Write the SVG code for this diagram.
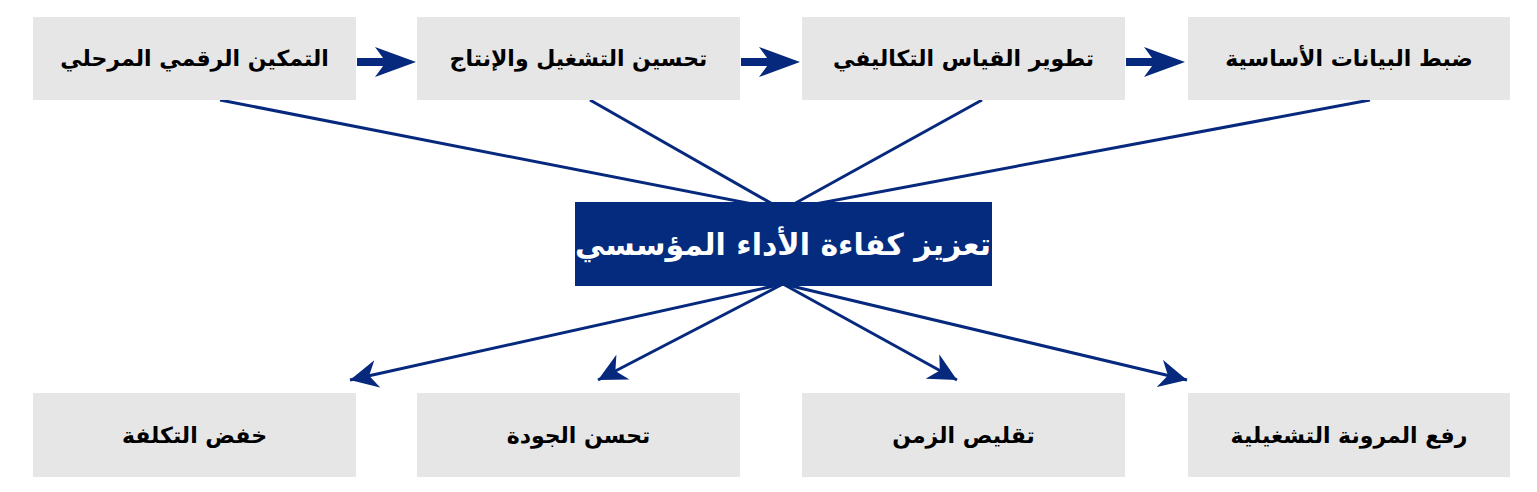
<svg xmlns="http://www.w3.org/2000/svg" width="1537" height="492" viewBox="0 0 1537 492">
<style>
.b{fill:#e6e6e6}
.t{font-family:"DejaVu Sans",sans-serif;font-weight:bold;font-size:22px;fill:#000;text-anchor:middle;direction:rtl}
.c{stroke:#06297d;stroke-width:3;fill:none}
.k{stroke:#06297d;stroke-width:8;fill:none}
</style>
<defs>
<marker id="a" viewBox="0 0 10 10" refX="9" refY="5" markerWidth="10" markerHeight="10" markerUnits="userSpaceOnUse" orient="auto"><path d="M0,0 L10,5 L0,10 z" fill="#06297d"/></marker>
<marker id="a2" viewBox="0 0 10 10" refX="10" refY="5" markerWidth="8" markerHeight="8" orient="auto"><path d="M0,0 L10,5 L0,10 L3,5 z" fill="#06297d"/></marker>
<marker id="a3" viewBox="0 0 10 10" refX="10" refY="5" markerWidth="28" markerHeight="28" markerUnits="userSpaceOnUse" orient="auto"><path d="M0,0 L10,5 L0,10 L3,5 z" fill="#06297d"/></marker>
</defs>
<g id="connectors">
<line class="c" x1="220" y1="100" x2="783" y2="210"/>
<line class="c" x1="590" y1="100" x2="783" y2="210"/>
<line class="c" x1="982" y1="100" x2="783" y2="210"/>
<line class="c" x1="1370" y1="100" x2="783" y2="210"/>
<line class="c" x1="783" y1="284" x2="350" y2="380" marker-end="url(#a3)"/>
<line class="c" x1="783" y1="284" x2="598" y2="380" marker-end="url(#a3)"/>
<line class="c" x1="783" y1="284" x2="957" y2="380" marker-end="url(#a3)"/>
<line class="c" x1="783" y1="284" x2="1187" y2="380" marker-end="url(#a3)"/>
<line class="k" x1="357" y1="62" x2="398" y2="62"/>
<path d="M375,47 L416,62 L375,77 L386,62 z" fill="#06297d"/>
<line class="k" x1="741" y1="62" x2="782" y2="62"/>
<path d="M759,47 L800,62 L759,77 L770,62 z" fill="#06297d"/>
<line class="k" x1="1126" y1="62" x2="1167" y2="62"/>
<path d="M1144,47 L1185,62 L1144,77 L1155,62 z" fill="#06297d"/>
</g>
<g id="n1"><rect class="b" x="33" y="17" width="323" height="83"/><text class="t" x="194.5" y="66">التمكين الرقمي المرحلي</text></g>
<g id="n2"><rect class="b" x="417" y="17" width="323" height="83"/><text class="t" x="578.5" y="66">تحسين التشغيل والإنتاج</text></g>
<g id="n3"><rect class="b" x="802" y="17" width="323" height="83"/><text class="t" x="963.5" y="66">تطوير القياس التكاليفي</text></g>
<g id="n4"><rect class="b" x="1188" y="17" width="322" height="83"/><text class="t" x="1349" y="66">ضبط البيانات الأساسية</text></g>
<g id="center"><rect x="575" y="202" width="417" height="84" fill="#052b7f"/><text class="t" x="783" y="255" style="font-size:30px;fill:#fff">تعزيز كفاءة الأداء المؤسسي</text></g>
<g id="n5"><rect class="b" x="33" y="393" width="323" height="84"/><text class="t" x="194.5" y="443">خفض التكلفة</text></g>
<g id="n6"><rect class="b" x="417" y="393" width="323" height="84"/><text class="t" x="578.5" y="443">تحسن الجودة</text></g>
<g id="n7"><rect class="b" x="802" y="393" width="323" height="84"/><text class="t" x="963.5" y="443">تقليص الزمن</text></g>
<g id="n8"><rect class="b" x="1188" y="393" width="322" height="84"/><text class="t" x="1349" y="443">رفع المرونة التشغيلية</text></g>
</svg>
